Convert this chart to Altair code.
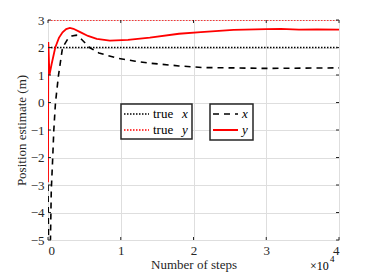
import altair as alt
import pandas as pd

# Estimated x trajectory
est_x_steps = [0, 100, 300, 450, 650, 800, 1030, 1450, 2000, 2700, 3300, 3900, 4600, 5700, 7000, 9400, 12000, 14000, 18000, 21300, 25000, 30000, 35000, 40000]
est_x_vals = [-3.0, -5.6, -5.6, -3.2, -2.0, -1.0, 0.0, 1.0, 2.0, 2.3, 2.42, 2.45, 2.3, 2.0, 1.8, 1.62, 1.5, 1.43, 1.33, 1.27, 1.26, 1.24, 1.25, 1.26]

# Estimated y trajectory
est_y_steps = [0, 40, 200, 500, 1000, 1500, 2000, 2500, 3000, 3500, 4500, 5500, 6700, 8500, 11000, 14000, 18000, 21000, 25500, 30000, 32000, 34500, 37000, 40000]
est_y_vals = [-2.9, 2.2, 1.0, 1.4, 2.0, 2.35, 2.55, 2.67, 2.71, 2.68, 2.55, 2.42, 2.31, 2.25, 2.28, 2.36, 2.5, 2.56, 2.64, 2.67, 2.68, 2.65, 2.66, 2.65]

true_steps = [0, 40000]
true_x = [2, 2]
true_y = [3, 3]

x_ticks = [0, 10000, 20000, 30000, 40000]
y_ticks = [-5, -4, -3, -2, -1, 0, 1, 2, 3]

FONT = "Liberation Serif"
AXC = "#262626"
FS = 13

xs = alt.Scale(domain=[0, 40000], nice=False, zero=False)
ys = alt.Scale(domain=[-5, 3], nice=False, zero=False)

df_ex = pd.DataFrame({"step": est_x_steps, "val": est_x_vals})
df_ey = pd.DataFrame({"step": est_y_steps, "val": est_y_vals})
df_tx = pd.DataFrame({"step": true_steps, "val": true_x})
df_ty = pd.DataFrame({"step": true_steps, "val": true_y})
df_xt = pd.DataFrame({"step": x_ticks})
df_yt = pd.DataFrame({"val": y_ticks})

xaxis = alt.Axis(
    values=x_ticks, labelExpr="datum.value/10000", title="Number of steps",
    grid=True, gridColor="#dedede", gridWidth=1, ticks=False, domain=False,
    labelFont=FONT, labelFontSize=FS, labelColor=AXC, labelPadding=4,
    titleFont=FONT, titleFontSize=FS, titleFontWeight="normal", titleColor=AXC, titlePadding=1)
yaxis = alt.Axis(
    values=y_ticks, title="Position estimate (m)",
    grid=True, gridColor="#dedede", gridWidth=1, ticks=False, domain=False,
    labelFont=FONT, labelFontSize=FS, labelColor=AXC, labelPadding=4,
    titleFont=FONT, titleFontSize=FS, titleFontWeight="normal", titleColor=AXC, titlePadding=2)

X = alt.X("step:Q", scale=xs, axis=xaxis)
Y = alt.Y("val:Q", scale=ys, axis=yaxis)

tx_line = alt.Chart(df_tx).mark_line(color="black", strokeWidth=1.5, strokeDash=[1.5, 1.5], clip=True).encode(x=X, y=Y)
ty_line = alt.Chart(df_ty).mark_line(color="red", strokeWidth=1.5, strokeDash=[1.5, 1.5], clip=True).encode(x=X, y=Y)
ex_line = alt.Chart(df_ex).mark_line(color="black", strokeWidth=1.6, strokeDash=[6, 5], clip=True).encode(x=X, y=Y)
ey_line = alt.Chart(df_ey).mark_line(color="red", strokeWidth=1.8, clip=True).encode(x=X, y=Y)

# inward ticks
xt_bot = alt.Chart(df_xt).mark_rule(color=AXC, strokeWidth=1).encode(
    x=X, y=alt.value(220), y2=alt.value(217))
xt_top = alt.Chart(df_xt).mark_rule(color=AXC, strokeWidth=1).encode(
    x=X, y=alt.value(0), y2=alt.value(3))
yt_l = alt.Chart(df_yt).mark_rule(color=AXC, strokeWidth=1).encode(
    y=Y, x=alt.value(0), x2=alt.value(3))
yt_r = alt.Chart(df_yt).mark_rule(color=AXC, strokeWidth=1).encode(
    y=Y, x=alt.value(291), x2=alt.value(288))

one = alt.Data(values=[{}])

def box(x1, x2, y1, y2):
    return alt.Chart(one).mark_rect(fill="white", stroke=AXC, strokeWidth=1.5).encode(
        x=alt.value(x1), x2=alt.value(x2), y=alt.value(y1), y2=alt.value(y2))

def seg(x1, x2, yv, color, dash, w):
    m = alt.Chart(one).mark_rule(color=color, strokeWidth=w, strokeDash=dash)
    return m.encode(x=alt.value(x1), x2=alt.value(x2), y=alt.value(yv))

def txt(xv, yv, s, italic=False, size=FS):
    return alt.Chart(one).mark_text(text=s, font=FONT, fontSize=size, color="black",
                                    fontStyle="italic" if italic else "normal",
                                    align="left", baseline="middle").encode(
        x=alt.value(xv), y=alt.value(yv))

legend = [
    box(73, 144, 84, 119),
    seg(76, 101, 94, "black", [1.5, 1.5], 1.5),
    seg(76, 101, 110, "red", [1.5, 1.5], 1.5),
    txt(105, 94, "true"), txt(134, 94, "x", True),
    txt(105, 110, "true"), txt(134, 110, "y", True),
    box(162, 205, 84, 120),
    seg(165, 190, 94, "black", [6, 5], 1.6),
    seg(165, 190, 110, "red", [1, 0], 1.8),
    txt(194, 94, "x", True), txt(194, 110, "y", True),
]

exp_txt = [
    txt(262, 246, "×10", size=12),
    txt(282, 239, "4", size=9),
]

chart = alt.layer(tx_line, ex_line, ey_line, ty_line,
                  xt_bot, xt_top, yt_l, yt_r, *legend, *exp_txt).properties(
    width=291, height=220,
    autosize=alt.AutoSizeParams(type="none"),
    padding={"left": 40, "top": 12, "right": 27, "bottom": 32},
).configure_view(stroke=AXC, strokeWidth=1.2).configure(background="white")

chart.save("out.html", embed_options={"renderer": "svg", "actions": False})
